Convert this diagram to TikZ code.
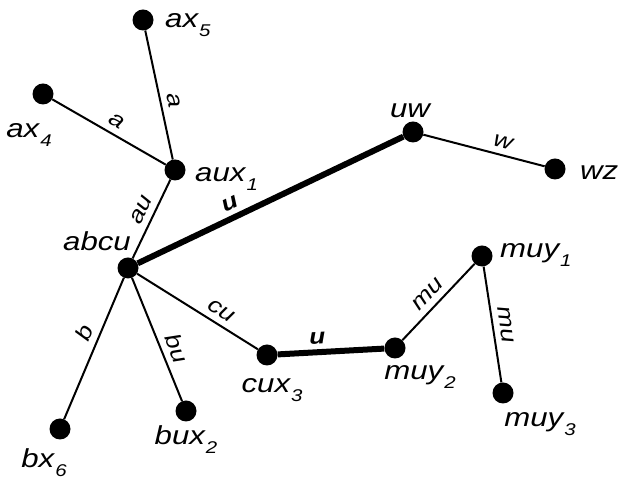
\documentclass[tikz,border=0pt]{standalone}
\usepackage{fontspec}
\setmainfont{Liberation Sans}[FakeStretch=1.2]
\usetikzlibrary{positioning}
\newcommand{\ix}[1]{\kern1pt\raisebox{-9pt}{\fontsize{17}{17}\selectfont #1}}

\begin{document}
\begin{tikzpicture}[x=1pt, y=1pt,
  vtx/.style={circle, fill=black, inner sep=0pt, minimum size=21pt},
  vlabel/.style={font=\fontsize{26}{28}\selectfont\itshape, inner sep=0pt},
  link/.style={line width=2pt},
  heavylink/.style={line width=6pt},
  elab/.style={font=\fontsize{22}{24}\selectfont\itshape, sloped, above=5pt, inner sep=1pt},
  ulab/.style={font=\fontsize{22}{24}\selectfont\bfseries\itshape, sloped, above=4pt, inner sep=1pt}]

\useasboundingbox (0,0) rectangle (618,478);

% vertices
\node[vtx] (ax5)  at (143,458) {};
\node[vtx] (ax4)  at (43,384)  {};
\node[vtx] (aux1) at (175,308) {};
\node[vtx] (abcu) at (128,210) {};
\node[vtx] (uw)   at (413,346) {};
\node[vtx] (wz)   at (555,309) {};
\node[vtx] (muy1) at (482,222) {};
\node[vtx] (muy2) at (395,130) {};
\node[vtx] (muy3) at (503,85)  {};
\node[vtx] (cux3) at (267,123) {};
\node[vtx] (bux2) at (186,67)  {};
\node[vtx] (bx6)  at (60,49)   {};

% vertex names
\node[vlabel, anchor=base west] (ax5n)  at ([shift={(22,-8)}]ax5)   {ax\ix{5}};
\node[vlabel, anchor=base]      (ax4n)  at ([shift={(-14,-44)}]ax4) {ax\ix{4}};
\node[vlabel, anchor=base west] (aux1n) at ([shift={(20,-12)}]aux1) {aux\ix{1}};
\node[vlabel, anchor=base]      (abcun) at ([shift={(-31,17)}]abcu) {abcu};
\node[vlabel, anchor=base]      (uwn)   at ([shift={(-3,14)}]uw)    {uw};
\node[vlabel, anchor=base west] (wzn)   at ([shift={(25,-11)}]wz)   {wz};
\node[vlabel, anchor=base west] (muy1n) at ([shift={(18,-2)}]muy1)  {muy\ix{1}};
\node[vlabel, anchor=base]      (muy2n) at ([shift={(25,-32)}]muy2) {muy\ix{2}};
\node[vlabel, anchor=base]      (muy3n) at ([shift={(37,-34)}]muy3) {muy\ix{3}};
\node[vlabel, anchor=base]      (cux3n) at ([shift={(5,-38)}]cux3)  {cux\ix{3}};
\node[vlabel, anchor=base]      (bux2n) at ([shift={(0,-34)}]bux2)  {bux\ix{2}};
\node[vlabel, anchor=base]      (bx6n)  at ([shift={(-16,-39)}]bx6) {bx\ix{6}};

% connectors
\draw[link] (ax5) -- node[elab, pos=0.56] {a} (aux1);
\draw[link] (ax4) -- node[elab, pos=0.51] {a} (aux1);
\draw[link] (aux1) -- node[elab, pos=0.46] {au} (abcu);
\draw[heavylink] (abcu) -- node[ulab, pos=0.37] {u} (uw);
\draw[link] (uw) -- node[elab, pos=0.63] {w} (wz);
\draw[link] (abcu) -- node[elab, pos=0.64] {cu} (cux3);
\draw[link] (abcu) -- node[elab, pos=0.62] {bu} (bux2);
\draw[link] (abcu) -- node[elab, pos=0.43] {b} (bx6);
\draw[heavylink] (cux3) -- node[ulab, pos=0.38] {u} (muy2);
\draw[link] (muy2) -- node[elab, pos=0.48] {mu} (muy1);
\draw[link] (muy1) -- node[elab, pos=0.52] {mu} (muy3);

\end{tikzpicture}
\end{document}
